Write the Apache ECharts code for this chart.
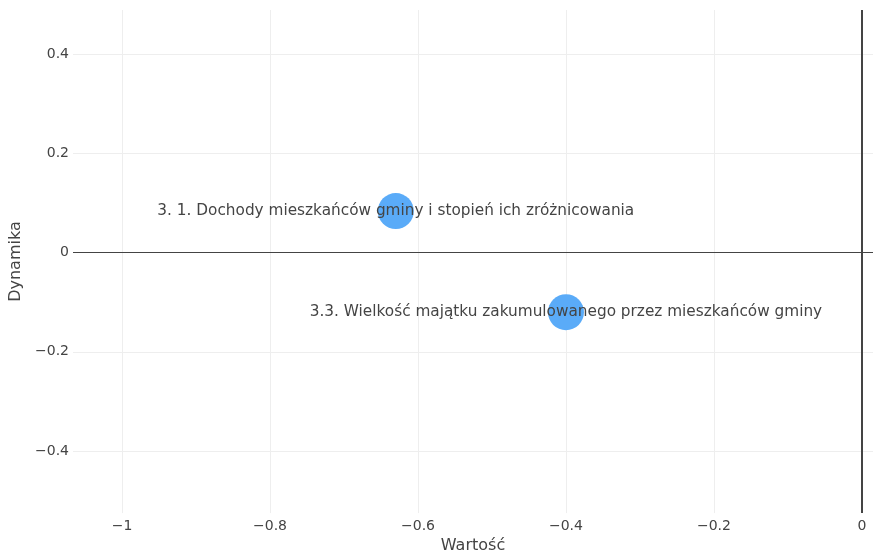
<!DOCTYPE html>
<html>
<head>
<meta charset="utf-8">
<script src="https://cdn.jsdelivr.net/npm/echarts@6/dist/echarts.min.js"></script>
<style>html,body{margin:0;padding:0;background:#fff;overflow:hidden;}#c{width:873px;height:559px;}</style>
</head>
<body>
<div id="c"></div>
<script>
const labels = [
  "3. 1. Dochody mieszkańców gminy i stopień ich zróżnicowania",
  "3.3. Wielkość majątku zakumulowanego przez mieszkańców gminy"
];
const wartosc = [-0.63, -0.40];
const dynamika = [0.084, -0.120];
const xTitle = "Wartość";
const yTitle = "Dynamika";

function fmt(v) {
  if (Math.abs(v) < 1e-9) return '0';
  return String(+v.toFixed(2)).replace('-', '\u2212');
}

const chart = echarts.init(document.getElementById('c'), null, {renderer: 'canvas', width: 873, height: 559});
const data = wartosc.map((x, i) => ({value: [x, dynamika[i]], name: labels[i]}));
chart.setOption({
  animation: false,
  backgroundColor: '#fff',
  grid: {left: 73, right: 0, top: 10, bottom: 39, containLabel: false},
  xAxis: {
    type: 'value', min: -1.0663, max: 0.015, splitNumber: 5,
    name: xTitle, nameLocation: 'middle', nameGap: 20,
    nameTextStyle: {color: '#444', fontSize: 16, fontFamily: 'DejaVu Sans'},
    axisLine: {show: false}, axisTick: {show: false},
    axisLabel: {formatter: fmt, color: '#444', fontSize: 14, fontFamily: 'DejaVu Sans', margin: 6, showMinLabel: false, showMaxLabel: false},
    splitLine: {show: true, showMinLine: false, showMaxLine: false, lineStyle: {color: '#eee', width: 1}}
  },
  yAxis: {
    type: 'value', min: -0.5254, max: 0.4896, splitNumber: 5,
    name: yTitle, nameLocation: 'middle', nameGap: 47, nameRotate: 90,
    nameTextStyle: {color: '#444', fontSize: 16, fontFamily: 'DejaVu Sans'},
    axisLine: {show: false}, axisTick: {show: false},
    axisLabel: {formatter: fmt, color: '#444', fontSize: 14, fontFamily: 'DejaVu Sans', margin: 4, showMinLabel: false, showMaxLabel: false},
    splitLine: {show: true, showMinLine: false, showMaxLine: false, lineStyle: {color: '#eee', width: 1}}
  },
  series: [{
    type: 'scatter',
    data: data,
    symbolSize: 36,
    itemStyle: {color: '#5aabf8', opacity: 1},
    label: {
      show: true, position: 'inside', formatter: p => p.name,
      color: '#444', fontSize: 15.3, fontFamily: 'DejaVu Sans'
    },
    markLine: {
      silent: true, symbol: 'none', label: {show: false},
      data: [
        {xAxis: 0, lineStyle: {color: '#444', width: 2, type: 'solid'}},
        {yAxis: 0, lineStyle: {color: '#444', width: 1, type: 'solid'}}
      ]
    }
  }]
});
</script>
</body>
</html>
